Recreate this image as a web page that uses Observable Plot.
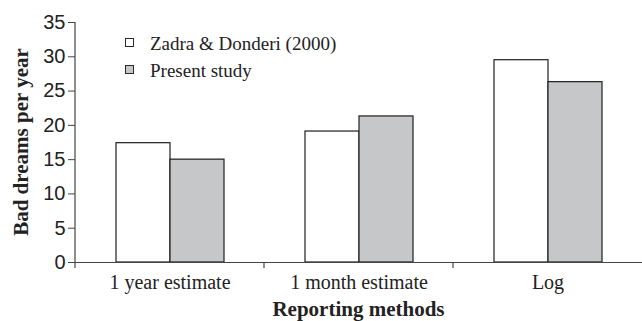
<!DOCTYPE html>
<html>
<head>
<meta charset="utf-8">
<script src="https://cdn.jsdelivr.net/npm/d3@7"></script>
<script src="https://cdn.jsdelivr.net/npm/@observablehq/plot@0.6"></script>
<style>
  html, body { margin: 0; padding: 0; background: #fff; }
  #wrap { position: relative; width: 642px; height: 321px; overflow: hidden; }
  .leg { position: absolute; left: 0; top: 0; width: 400px; height: 100px; font-family: "Liberation Serif", serif; font-size: 19px; color: #222; }
  .leg .sw { position: absolute; width: 7px; height: 7px; border: 1.5px solid #2a2a2a; }
  .leg .lb { position: absolute; line-height: 1; white-space: nowrap; }
</style>
</head>
<body>
<div id="wrap"></div>
<script>
const categories = ["1 year estimate", "1 month estimate", "Log"];
const series = ["Zadra & Donderi (2000)", "Present study"];
const zadra = [17.4, 19.1, 29.5];
const present = [15.0, 21.3, 26.3];
const yTicks = [0, 5, 10, 15, 20, 25, 30, 35];
const colors = ["#ffffff", "#c6c7c9"];
const yLabel = "Bad dreams per year";
const xLabel = "Reporting methods";

const data = categories.flatMap((c, i) => [
  {category: c, series: series[0], value: zadra[i]},
  {category: c, series: series[1], value: present[i]}
]);

const plot = Plot.plot({
  width: 642,
  height: 321,
  marginTop: 22,
  marginBottom: 59,
  marginLeft: 75,
  marginRight: 0,
  style: {background: "#fff", color: "#222"},
  fx: {domain: categories, padding: 0, label: null},
  x: {domain: series, paddingInner: 0, paddingOuter: 0.72, axis: null},
  y: {domain: [0, 35], label: null},
  color: {domain: series, range: colors},
  marks: [
    Plot.barY(data, {fx: "category", x: "series", y: "value", fill: "series", stroke: "#1e1e1e", strokeWidth: 1.2}),
    Plot.ruleY([0], {stroke: "#444", strokeWidth: 1.2}),
    Plot.axisY({ticks: yTicks, tickSize: 7, tickPadding: 3, fontSize: 20, fontFamily: "Liberation Sans", stroke: "#444", label: null}),
    Plot.axisFx({anchor: "bottom", tickSize: 0, tickPadding: 12, fontSize: 20, fontFamily: "Liberation Serif", label: null})
  ]
});

const wrap = document.getElementById("wrap");
wrap.appendChild(plot);

// extra axis line, boundary ticks and axis titles drawn from the Plot scales
const svg = d3.select(plot);
const y = plot.scale("y");
const fx = plot.scale("fx");
const y0 = y.apply(0);
const yTop = y.apply(35);
const g = svg.append("g").attr("stroke", "#444").attr("stroke-width", 1.2);
g.append("line").attr("x1", 75).attr("x2", 75).attr("y1", yTop).attr("y2", y0 + 6);
categories.slice(1).forEach(c => {
  const bx = fx.apply(c);
  g.append("line").attr("x1", bx).attr("x2", bx).attr("y1", y0).attr("y2", y0 + 6);
});
svg.append("text")
  .attr("transform", `translate(28,${(y0 + yTop) / 2}) rotate(-90)`)
  .attr("text-anchor", "middle")
  .attr("font-family", "Liberation Serif").attr("font-weight", "bold").attr("font-size", 21)
  .attr("fill", "#222")
  .text(yLabel);
svg.append("text")
  .attr("x", (fx.range[0] + fx.range[1]) / 2).attr("y", 316)
  .attr("text-anchor", "middle")
  .attr("font-family", "Liberation Serif").attr("font-weight", "bold").attr("font-size", 21)
  .attr("fill", "#222")
  .text(xLabel);

// legend overlay
const leg = document.createElement("div");
leg.className = "leg";
series.forEach((s, i) => {
  const top = 38 + i * 27;
  const sw = document.createElement("div");
  sw.className = "sw";
  sw.style.left = "125px";
  sw.style.top = top + "px";
  sw.style.background = colors[i];
  const lb = document.createElement("div");
  lb.className = "lb";
  lb.style.left = "150px";
  lb.style.top = (top - 4) + "px";
  lb.textContent = s;
  leg.appendChild(sw);
  leg.appendChild(lb);
});
wrap.appendChild(leg);
</script>
</body>
</html>
